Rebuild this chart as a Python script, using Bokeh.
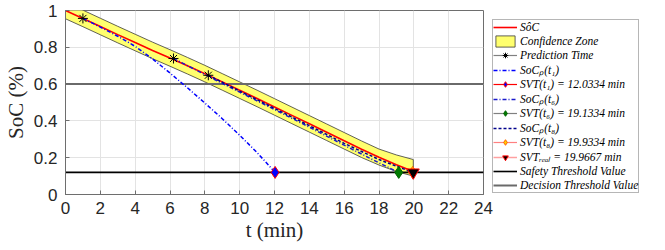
from bokeh.plotting import figure
from bokeh.models import Legend, LegendItem, FixedTicker
from bokeh.embed import file_html
from bokeh.resources import INLINE

# ---------------- data ----------------
t_est = [0, 1, 2, 3, 4, 5, 6, 7, 8, 9, 10, 11, 12, 13, 14, 15, 16, 17, 18, 19, 19.97]
soc_est = [1.0, 0.957, 0.913, 0.869, 0.826, 0.783, 0.742, 0.700, 0.657, 0.612, 0.567,
           0.522, 0.476, 0.430, 0.384, 0.338, 0.292, 0.246, 0.202, 0.162, 0.125]
band_upper = [1.045, 1.002, 0.958, 0.914, 0.871, 0.828, 0.787, 0.745, 0.702, 0.657, 0.612,
              0.567, 0.521, 0.475, 0.429, 0.383, 0.337, 0.291, 0.247, 0.215, 0.190]
band_lower = [0.955, 0.912, 0.868, 0.824, 0.781, 0.738, 0.697, 0.655, 0.612, 0.567, 0.522,
              0.477, 0.431, 0.385, 0.339, 0.293, 0.247, 0.201, 0.160, 0.125, 0.100]

pred_t = [1.0, 6.2, 8.2]
pred_soc = [0.957, 0.739, 0.648]

t_p1 = [1.0, 2, 3, 4, 5, 6, 7, 8, 9, 10, 11, 12.0334]
soc_p1 = [0.957, 0.910, 0.860, 0.805, 0.737, 0.660, 0.580, 0.497, 0.412, 0.322, 0.228, 0.12]

t_p6 = [6.2, 8, 10, 12, 14, 16, 18, 19.1334]
soc_p6 = [0.739, 0.652, 0.556, 0.462, 0.366, 0.268, 0.172, 0.12]

t_p8 = [8.2, 10, 12, 14, 16, 18, 19.9334]
soc_p8 = [0.648, 0.562, 0.468, 0.374, 0.278, 0.190, 0.12]

svt_t = [12.0334, 19.1334, 19.9334, 19.9667]
svt_soc = [0.12, 0.12, 0.12, 0.12]

safety_value = 0.12
decision_value = 0.6

x_ticks = [0, 2, 4, 6, 8, 10, 12, 14, 16, 18, 20, 22, 24]
y_ticks = [0, 0.2, 0.4, 0.6, 0.8, 1.0]
y_tick_labels = ["0", "0.2", "0.4", "0.6", "0.8", "1"]

legend_labels = [
    "SôC",
    "Confidence Zone",
    "Prediction Time",
    "SoCₚ(t₁)",
    "SVT(t₁) = 12.0334 min",
    "SoCₚ(t₆)",
    "SVT(t₆) = 19.1334 min",
    "SoCₚ(t₈)",
    "SVT(t₈) = 19.9334 min",
    "SVTᵣₑₐₗ = 19.9667 min",
    "Safety Threshold Value",
    "Decision Threshold Value",
]

# ---------------- figure ----------------
p = figure(frame_width=418, frame_height=184,
           x_range=(x_ticks[0], x_ticks[-1]), y_range=(y_ticks[0], y_ticks[-1]),
           output_backend="svg", toolbar_location=None,
           min_border_left=64, min_border_top=10, min_border_bottom=50,
           min_border_right=182)
p.background_fill_color = "white"
p.border_fill_color = "white"
p.outline_line_color = "#6e6e6e"
p.outline_line_width = 1

p.xaxis.ticker = FixedTicker(ticks=x_ticks)
p.yaxis.ticker = FixedTicker(ticks=y_ticks)
p.yaxis.major_label_overrides = {v: s for v, s in zip(y_ticks, y_tick_labels)}
for ax in (p.xaxis[0], p.yaxis[0]):
    ax.axis_line_color = "#6e6e6e"
    ax.major_tick_line_color = "#6e6e6e"
    ax.major_tick_in = 4
    ax.major_tick_out = 0
    ax.minor_tick_line_color = None
    ax.major_label_text_font = "Liberation Sans"
    ax.major_label_text_font_size = "17px"
    ax.major_label_text_color = "#262626"
    ax.axis_label_text_font = "Liberation Serif"
    ax.axis_label_text_font_style = "normal"
    ax.axis_label_text_font_size = "21px"
    ax.axis_label_text_color = "#262626"
p.xaxis.axis_label = "t (min)"
p.yaxis.axis_label = "SoC (%)"
p.xaxis.major_label_standoff = 7
p.xaxis.axis_label_standoff = 1
p.yaxis.major_label_standoff = 8
p.yaxis.axis_label_standoff = 3

p.grid.grid_line_color = "#e3e3e3"
p.grid.grid_line_width = 1

# confidence band
band_x = t_est + t_est[::-1]
band_y = band_upper + band_lower[::-1]
r_band = p.patch(band_x, band_y, fill_color="#ffff6e", line_color="#3a3a3a", line_width=0.8)

r_dec = p.line([x_ticks[0], x_ticks[-1]], [decision_value, decision_value],
               line_color="#6a6a6a", line_width=2)

r_est = p.line(t_est, soc_est, line_color="#ff0000", line_width=1.6)

r_p1 = p.line(t_p1, soc_p1, line_color="#0000ff", line_width=1.5, line_dash="4 2 1 2")
r_p6 = p.line(t_p6, soc_p6, line_color="#1a1acc", line_width=1.5, line_dash="4 2 1 2")
r_p8 = p.line(t_p8, soc_p8, line_color="#00008b", line_width=1.5, line_dash="3 2")

r_saf = p.line([x_ticks[0], x_ticks[-1]], [safety_value, safety_value],
               line_color="#000000", line_width=1.6)

# prediction-time markers
r_pred_line = p.line(pred_t[:1], pred_soc[:1], line_color="#808080", line_width=1.2)
r_pred = p.scatter(pred_t, pred_soc, marker="asterisk", size=10, line_color="#000000", line_width=1)

# SVT markers (single-point lines act as legend line samples)
r_s1l = p.line(svt_t[:1], svt_soc[:1], line_color="#ff0000", line_width=1.2)
r_s1 = p.scatter(svt_t[:1], svt_soc[:1], marker="diamond", size=12,
                 fill_color="#0000ff", line_color="#ff0000", line_width=1)
r_s6l = p.line(svt_t[1:2], svt_soc[1:2], line_color="#808080", line_width=1.2)
r_s6 = p.scatter(svt_t[1:2], svt_soc[1:2], marker="diamond", size=12,
                 fill_color="#007a00", line_color="#006400", line_width=1)
r_s8l = p.line(svt_t[2:3], svt_soc[2:3], line_color="#ff8080", line_width=1.2)
r_s8 = p.scatter(svt_t[2:3], svt_soc[2:3], marker="diamond", size=12,
                 fill_color="#ffcc00", line_color="#ff6600", line_width=1)
r_srl = p.line(svt_t[3:4], svt_soc[3:4], line_color="#ffa0a0", line_width=1.5)
r_sr = p.scatter(svt_t[3:4], svt_soc[3:4], marker="inverted_triangle", size=12,
                 fill_color="#000000", line_color="#ff0000", line_width=1)

items = [
    LegendItem(label=legend_labels[0], renderers=[r_est]),
    LegendItem(label=legend_labels[1], renderers=[r_band]),
    LegendItem(label=legend_labels[2], renderers=[r_pred_line, r_pred]),
    LegendItem(label=legend_labels[3], renderers=[r_p1]),
    LegendItem(label=legend_labels[4], renderers=[r_s1l, r_s1]),
    LegendItem(label=legend_labels[5], renderers=[r_p6]),
    LegendItem(label=legend_labels[6], renderers=[r_s6l, r_s6]),
    LegendItem(label=legend_labels[7], renderers=[r_p8]),
    LegendItem(label=legend_labels[8], renderers=[r_s8l, r_s8]),
    LegendItem(label=legend_labels[9], renderers=[r_srl, r_sr]),
    LegendItem(label=legend_labels[10], renderers=[r_saf]),
    LegendItem(label=legend_labels[11], renderers=[r_dec]),
]
legend = Legend(items=items, location=(9, 1), margin=0, padding=0, spacing=0,
                glyph_width=24, glyph_height=14, label_height=14, label_standoff=3,
                label_text_font="Liberation Serif", label_text_font_style="italic",
                label_text_font_size="11.5px", label_text_color="#000000",
                border_line_color="#6e6e6e", border_line_width=1,
                background_fill_color="white", background_fill_alpha=1)
p.add_layout(legend, "right")

open("out.html", "w").write(file_html(p, INLINE))
